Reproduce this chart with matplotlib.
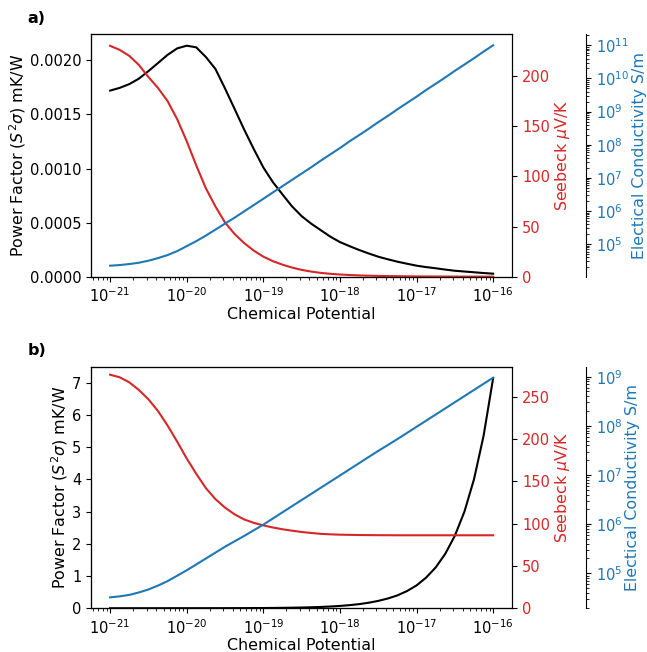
import matplotlib
matplotlib.use('Agg')
import matplotlib.pyplot as plt

# chemical potential samples (eighth of a decade apart)
mu = [1.00e-21, 1.33e-21, 1.78e-21, 2.37e-21, 3.16e-21, 4.22e-21, 5.62e-21, 7.50e-21,
      1.00e-20, 1.33e-20, 1.78e-20, 2.37e-20, 3.16e-20, 4.22e-20, 5.62e-20, 7.50e-20,
      1.00e-19, 1.33e-19, 1.78e-19, 2.37e-19, 3.16e-19, 4.22e-19, 5.62e-19, 7.50e-19,
      1.00e-18, 1.33e-18, 1.78e-18, 2.37e-18, 3.16e-18, 4.22e-18, 5.62e-18, 7.50e-18,
      1.00e-17, 1.33e-17, 1.78e-17, 2.37e-17, 3.16e-17, 4.22e-17, 5.62e-17, 7.50e-17,
      1.00e-16]

# panel a)
pf_a = [0.00172, 0.001745, 0.00178, 0.00183, 0.00190, 0.001975, 0.00205, 0.00211,
        0.002135, 0.00212, 0.00203, 0.00192, 0.00174, 0.00155, 0.00136, 0.00118,
        0.00101, 0.000875, 0.00076, 0.00065, 0.00056, 0.00049, 0.00043, 0.00037,
        0.00032, 0.000283, 0.000247, 0.000215, 0.000185, 0.000161, 0.000139, 0.000120,
        0.000102, 0.000089, 0.000078, 0.000066, 0.000055, 0.000048, 0.000041, 0.000034,
        0.000028]
seebeck_a = [230, 226, 220, 211, 199, 188, 175, 157,
             135, 111, 88, 70, 54, 42.5, 33.5, 26,
             20, 15.5, 12, 9.1, 6.8, 5.1, 3.8, 2.9,
             2.2, 1.7, 1.3, 1.0, 0.8, 0.6, 0.5, 0.4,
             0.3, 0.25, 0.2, 0.15, 0.12, 0.1, 0.08, 0.06,
             0.05]
sigma_a = [2.24e4, 2.34e4, 2.51e4, 2.75e4, 3.16e4, 3.80e4, 4.68e4, 6.17e4,
           8.71e4, 1.23e5, 1.82e5, 2.75e5, 4.17e5, 6.31e5, 9.77e5, 1.51e6,
           2.34e6, 3.63e6, 5.62e6, 8.71e6, 1.35e7, 2.09e7, 3.31e7, 5.13e7,
           7.94e7, 1.26e8, 1.95e8, 3.02e8, 4.79e8, 7.41e8, 1.17e9, 1.82e9,
           2.82e9, 4.47e9, 6.92e9, 1.07e10, 1.70e10, 2.63e10, 4.07e10, 6.46e10,
           1.00e11]

# panel b)
pf_b = [0.0025, 0.0025, 0.0026, 0.0027, 0.0028, 0.0030, 0.0032, 0.0035,
        0.0037, 0.0040, 0.0042, 0.0045, 0.0049, 0.0055, 0.0064, 0.0077,
        0.0094, 0.0118, 0.0152, 0.0196, 0.0251, 0.0326, 0.0426, 0.056,
        0.074, 0.098, 0.130, 0.173, 0.230, 0.305, 0.40, 0.535,
        0.71, 0.95, 1.27, 1.69, 2.25, 3.0, 4.0, 5.35,
        7.14]
seebeck_b = [276, 273, 267, 258, 247, 233, 216, 197,
             177, 159, 142, 129, 119, 111, 105, 101,
             98, 95.5, 93.4, 91.7, 90.2, 89, 88, 87.4,
             87, 86.8, 86.6, 86.5, 86.4, 86.35, 86.3, 86.3,
             86.3, 86.3, 86.3, 86.3, 86.3, 86.3, 86.3, 86.3,
             86.3]
sigma_b = [3.24e4, 3.39e4, 3.63e4, 4.07e4, 4.68e4, 5.62e4, 6.92e4, 8.91e4,
           1.15e5, 1.51e5, 2.00e5, 2.63e5, 3.47e5, 4.47e5, 5.75e5, 7.50e5,
           9.77e5, 1.30e6, 1.74e6, 2.32e6, 3.09e6, 4.12e6, 5.50e6, 7.33e6,
           9.77e6, 1.30e7, 1.74e7, 2.32e7, 3.09e7, 4.07e7, 5.37e7, 7.16e7,
           9.55e7, 1.27e8, 1.70e8, 2.26e8, 3.02e8, 4.03e8, 5.37e8, 7.16e8,
           9.55e8]

plt.rcParams['xtick.labelsize'] = 10.5
plt.rcParams['ytick.labelsize'] = 10.5
plt.rcParams['axes.labelsize'] = 11.4

fig = plt.figure(figsize=(6.47, 6.52), dpi=100)


def panel(rect, pf, seebeck, sigma, tag, tag_y):
    ax = fig.add_axes(rect)
    ax.plot(mu, pf, color='k', lw=1.5)
    ax.set_xscale('log')
    ax.set_ylim(bottom=0)
    ax.set_xlabel('Chemical Potential', labelpad=1)
    ax.set_ylabel(r'Power Factor ($S^2\sigma$) mK/W', labelpad=1.5)

    ax2 = ax.twinx()
    ax2.plot(mu, seebeck, color='tab:red', lw=1.5)
    ax2.set_ylim(bottom=0)
    ax2.set_ylabel(r'Seebeck $\mu$V/K', color='tab:red', labelpad=2)
    ax2.tick_params(axis='y', labelcolor='tab:red')

    ax3 = ax.twinx()
    ax3.spines['right'].set_position(('axes', 1.175))
    ax3.plot(mu, sigma, color='tab:blue', lw=1.5)
    ax3.set_yscale('log')
    ax3.set_ylabel('Electical Conductivity S/m', color='tab:blue', labelpad=2)
    ax3.tick_params(axis='y', labelcolor='tab:blue')

    fig.text(0.043, tag_y, tag, fontsize=11.5, fontweight='bold',
             ha='left', va='center')


panel([0.1406, 0.5756, 0.6512, 0.3718], pf_a, seebeck_a, sigma_a, 'a)', 0.972)
panel([0.1406, 0.0670, 0.6512, 0.3706], pf_b, seebeck_b, sigma_b, 'b)', 0.463)

fig.savefig('out.png', dpi=100)
